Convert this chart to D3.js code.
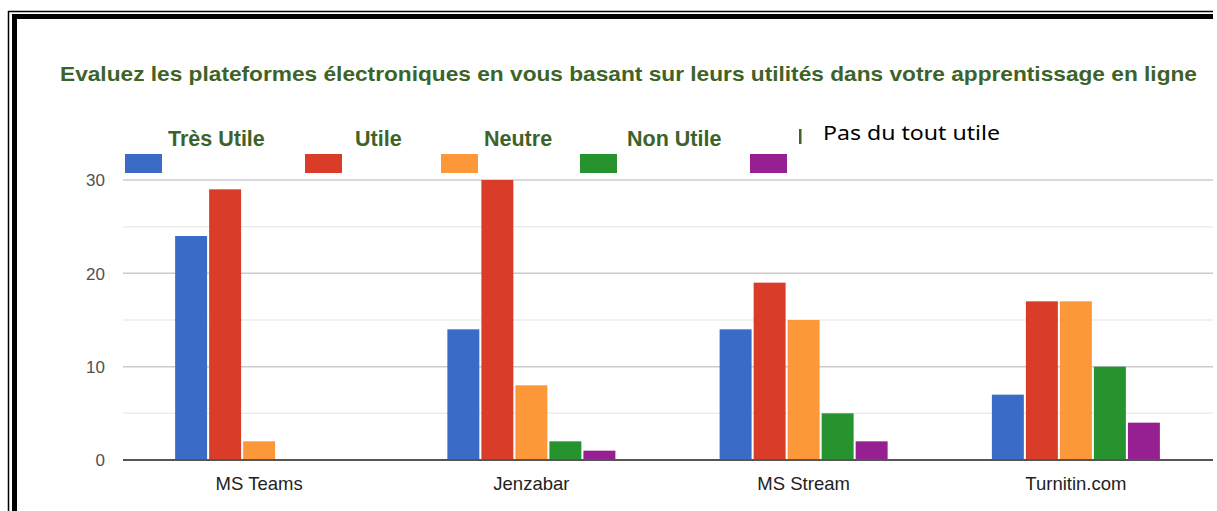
<!DOCTYPE html>
<html><head><meta charset="utf-8">
<script src="https://cdn.jsdelivr.net/npm/d3@7"></script>
<style>html,body{margin:0;padding:0;background:#fff;}svg{display:block;}</style>
</head><body>
<svg id="chart" width="1217" height="511"></svg>
<script>
// ---- data ----
const categories = ["MS Teams", "Jenzabar", "MS Stream", "Turnitin.com"];
const seriesNames = ["Très Utile", "Utile", "Neutre", "Non Utile", "Pas du tout utile"];
const tresUtile  = [24, 14, 14, 7];
const utile      = [29, 30, 19, 17];
const neutre     = [2, 8, 15, 17];
const nonUtile   = [0, 2, 5, 10];
const pasDuTout  = [0, 1, 2, 4];
const yTicks     = [0, 10, 20, 30];
const yMinor     = [5, 15, 25];
const titleText  = "Evaluez les plateformes électroniques en vous basant sur leurs utilités dans votre apprentissage en ligne";

const seriesValues = [tresUtile, utile, neutre, nonUtile, pasDuTout];
const colors = ["#3a6bc7", "#d93d2a", "#fc973a", "#26932f", "#961f91"];

const svg = d3.select("#chart");

// outer double frame
svg.append("line").attr("x1", 8).attr("x2", 1213).attr("y1", 11.5).attr("y2", 11.5).attr("stroke", "#000").attr("stroke-width", 1.5);
svg.append("line").attr("x1", 8.5).attr("x2", 8.5).attr("y1", 11).attr("y2", 511).attr("stroke", "#000").attr("stroke-width", 1.5);
svg.append("rect").attr("x", 12).attr("y", 14).attr("width", 1201).attr("height", 5).attr("fill", "#000");
svg.append("rect").attr("x", 12).attr("y", 14).attr("width", 5).attr("height", 497).attr("fill", "#000");

// scales
const plotLeft = 123, plotRight = 1212, y0 = 460, yTop = 180;
const x0 = d3.scaleBand().domain(categories).range([plotLeft, plotRight]).padding(0);
const groupW = 168;
const x1 = d3.scaleBand().domain(seriesNames).range([0, groupW]).paddingInner(0.06);
const y = d3.scaleLinear().domain([0, 30]).range([y0, yTop]);

// gridlines
svg.append("g").selectAll("line").data(yMinor).join("line")
  .attr("x1", plotLeft).attr("x2", 1213)
  .attr("y1", d => y(d)).attr("y2", d => y(d))
  .attr("stroke", "#ececec").attr("stroke-width", 1.5);
svg.append("g").selectAll("line").data(yTicks.filter(d => d > 0)).join("line")
  .attr("x1", plotLeft).attr("x2", 1213)
  .attr("y1", d => y(d)).attr("y2", d => y(d))
  .attr("stroke", "#cccccc").attr("stroke-width", 1.5);

// y axis labels
const yAxis = d3.axisLeft(y).tickValues(yTicks).tickSize(0).tickPadding(0);
const gy = svg.append("g").attr("transform", "translate(105,0)").call(yAxis);
gy.select(".domain").remove();
gy.selectAll("text").attr("font-family", "Liberation Sans, Arial, sans-serif")
  .attr("font-size", 17).attr("fill", "#505050").attr("dy", "0.35em");

// bars
const groups = svg.append("g").selectAll("g").data(categories).join("g")
  .attr("transform", c => `translate(${x0(c) + (x0.bandwidth() - groupW) / 2},0)`);
groups.selectAll("rect").data((c, ci) => seriesNames.map((s, si) => ({s, si, v: seriesValues[si][ci]})))
  .join("rect")
  .attr("x", d => x1(d.s)).attr("width", x1.bandwidth())
  .attr("y", d => y(d.v)).attr("height", d => y0 - y(d.v))
  .attr("fill", d => colors[d.si]);

// baseline
svg.append("line").attr("x1", plotLeft).attr("x2", 1213).attr("y1", y0).attr("y2", y0)
  .attr("stroke", "#555").attr("stroke-width", 2);

// x axis labels
const xAxis = d3.axisBottom(x0).tickSize(0).tickPadding(0);
const gx = svg.append("g").attr("transform", `translate(0,${y0})`).call(xAxis);
gx.select(".domain").remove();
gx.selectAll("text").attr("font-family", "Liberation Sans, Arial, sans-serif")
  .attr("font-size", 18.5).attr("fill", "#222").attr("y", 30).attr("dy", 0);

// title
svg.append("text").attr("x", 60).attr("y", 81)
  .attr("font-family", "Liberation Sans, Arial, sans-serif").attr("font-weight", "bold")
  .attr("font-size", 21).attr("fill", "#3d6329")
  .attr("textLength", 1137).attr("lengthAdjust", "spacingAndGlyphs")
  .text(titleText);

// legend
const swatchX = [125, 305, 441, 580, 750];
const labelX = [168, 355, 484, 627];
svg.append("g").selectAll("rect").data(seriesNames).join("rect")
  .attr("x", (d, i) => swatchX[i]).attr("y", 154).attr("width", 37).attr("height", 19)
  .attr("fill", (d, i) => colors[i]);
svg.append("g").selectAll("text").data(seriesNames.slice(0, 4)).join("text")
  .attr("x", (d, i) => labelX[i]).attr("y", 146)
  .attr("font-family", "Liberation Sans, Arial, sans-serif").attr("font-weight", "bold")
  .attr("font-size", 21.5).attr("fill", "#3d6329")
  .text(d => d);
// clipped fifth legend label stub
svg.append("rect").attr("x", 799).attr("y", 129).attr("width", 2.5).attr("height", 15).attr("fill", "#3d6329");
svg.append("text").attr("x", 823).attr("y", 140)
  .attr("font-family", "Noto Sans, Open Sans, sans-serif")
  .attr("font-size", 20).attr("fill", "#000")
  .attr("textLength", 177).attr("lengthAdjust", "spacingAndGlyphs")
  .text(seriesNames[4]);
</script>
</body></html>
